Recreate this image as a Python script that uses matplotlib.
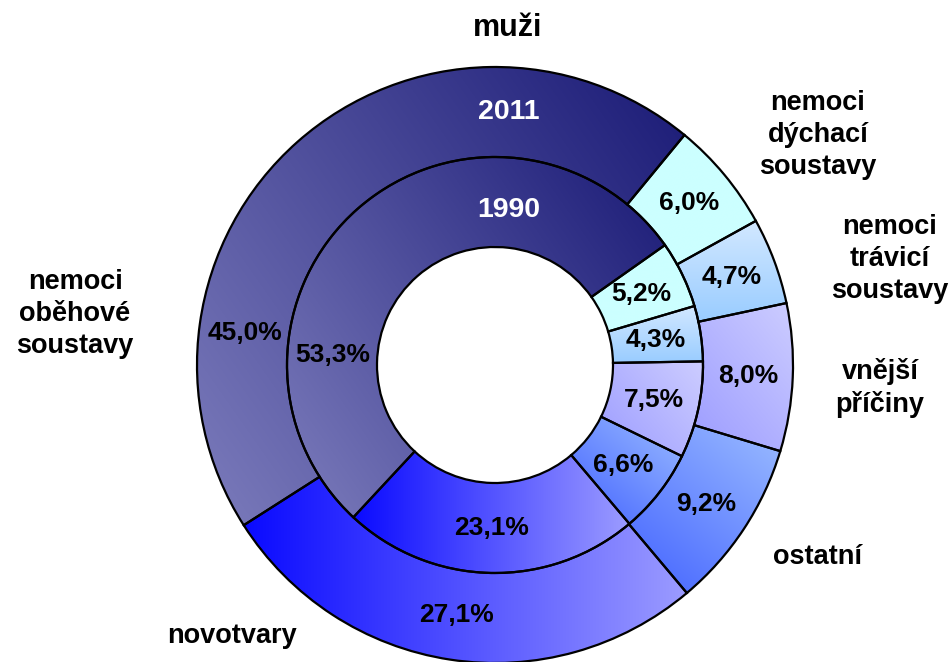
import numpy as np
import matplotlib
matplotlib.use("Agg")
import matplotlib.pyplot as plt
from matplotlib.colors import to_rgb

# ---------------- data ----------------
title = "muži"
categories = ["nemoci trávicí soustavy", "nemoci dýchací soustavy",
              "nemoci oběhové soustavy", "novotvary", "ostatní", "vnější příčiny"]
category_labels = ["nemoci\ntrávicí\nsoustavy", "nemoci\ndýchací\nsoustavy",
                   "nemoci\noběhové\nsoustavy", "novotvary", "ostatní", "vnější\npříčiny"]
years = ["2011", "1990"]
values_2011 = [4.7, 6.0, 45.0, 27.1, 9.2, 8.0]
values_1990 = [4.3, 5.2, 53.3, 23.1, 6.6, 7.5]

# ---------------- styles ----------------
# gradient (start colour, end colour, direction in degrees) per category
gradients = [
    ("#99ccff", "#d2e8ff", 90),   # trávicí
    ("#ccffff", "#ccffff", 0),    # dýchací
    ("#7c7cbc", "#1a1a76", 35),   # oběhové
    ("#0a0aff", "#9c9cff", 0),    # novotvary
    ("#4262ff", "#9bbcff", 50),   # ostatní
    ("#9c9cff", "#cdcdff", 40),   # vnější
]

plt.rcParams['font.family'] = ['Liberation Sans', 'DejaVu Sans']
plt.rcParams['font.weight'] = 'bold'

W, H, DPI = 952, 662, 100
cx, cy, R = 495, 365, 298   # pixel centre and outer radius

fig = plt.figure(figsize=(W / DPI, H / DPI), dpi=DPI)
ax = fig.add_axes([0, 0, 1, 1])


def px(x, y):
    return ((x - cx) / R, (cy - y) / R)


ring_w = 90 / R
r_outer = 1.0
r_inner = 208 / R
start_outer = 12
start_inner = 1

wedges_out, _ = ax.pie(values_2011, radius=r_outer, startangle=start_outer,
                       counterclock=True,
                       wedgeprops=dict(width=ring_w, edgecolor='black',
                                       linewidth=1.6, facecolor='none'))
wedges_in, _ = ax.pie(values_1990, radius=r_inner, startangle=start_inner,
                      counterclock=True,
                      wedgeprops=dict(width=ring_w, edgecolor='black',
                                      linewidth=1.6, facecolor='none'))


def fill_gradient(wedge, c0, c1, angle):
    bb = wedge.get_path().get_extents(wedge.get_patch_transform())
    x0, y0, x1, y1 = bb.x0, bb.y0, bb.x1, bb.y1
    n = 300
    X, Y = np.meshgrid(np.linspace(x0, x1, n), np.linspace(y0, y1, n))
    a = np.radians(angle)
    P = X * np.cos(a) + Y * np.sin(a)
    rng = P.max() - P.min()
    t = (P - P.min()) / rng if rng > 0 else np.zeros_like(P)
    img = (1 - t)[..., None] * np.array(to_rgb(c0)) + t[..., None] * np.array(to_rgb(c1))
    im = ax.imshow(img, extent=(x0, x1, y0, y1), origin='lower',
                   interpolation='bilinear', zorder=1, aspect='auto')
    im.set_clip_path(wedge)


for ws in (wedges_out, wedges_in):
    for w, (c0, c1, ang) in zip(ws, gradients):
        fill_gradient(w, c0, c1, ang)
        w.set_zorder(2)


def fmt(v):
    return f"{v:.1f}".replace('.', ',') + '%'


def label_ring(wedges, values, rmid, overrides):
    for i, (w, v) in enumerate(zip(wedges, values)):
        ang = (w.theta1 + w.theta2) / 2
        r = rmid
        if i in overrides:
            ang, r = overrides[i]
        a = np.radians(ang)
        ax.text(r * np.cos(a), r * np.sin(a), fmt(v), ha='center', va='center',
                fontsize=19, fontweight='bold', color='black', zorder=5)


label_ring(wedges_out, values_2011, r_outer - ring_w / 2, {2: (172.7, 0.846)})
label_ring(wedges_in, values_1990, r_inner - ring_w / 2, {2: (176.5, 0.544)})

# year labels
ax.text(*px(509, 112), years[0], ha='center', va='center', fontsize=20.5,
        fontweight='bold', color='white', zorder=5)
ax.text(*px(509, 210), years[1], ha='center', va='center', fontsize=20.5,
        fontweight='bold', color='white', zorder=5)

# category labels
cat_pos = [(890, 259), (818, 135), (75, 314), (232, 636), (818, 557), (880, 388)]
for lbl, (x, y) in zip(category_labels, cat_pos):
    ax.text(*px(x, y), lbl, ha='center', va='center', fontsize=19.5,
            fontweight='bold', color='black', linespacing=1.3, zorder=5)

ax.text(*px(508, 28), title, ha='center', va='center', fontsize=22,
        fontweight='bold', color='black')

ax.set_xlim(-cx / R, (W - cx) / R)
ax.set_ylim(-(H - cy) / R, cy / R)
ax.set_aspect('auto')
ax.axis('off')

fig.savefig("out.png", dpi=DPI, facecolor='white')
